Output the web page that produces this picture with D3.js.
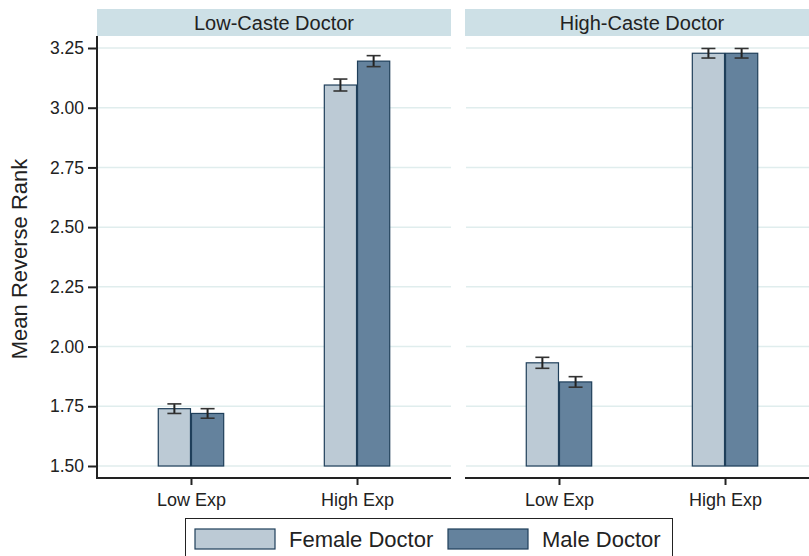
<!DOCTYPE html>
<html>
<head>
<meta charset="utf-8">
<script src="https://cdn.jsdelivr.net/npm/d3@7"></script>
<style>
  html, body { margin: 0; padding: 0; background: #fff; }
  svg { display: block; font-family: "Liberation Sans", Arial, sans-serif; }
</style>
</head>
<body>
<svg id="chart" width="809" height="556"></svg>
<script>
// Panels (doctor caste) and x categories (experience)
const panels = ["Low-Caste Doctor", "High-Caste Doctor"];
const experience = ["Low Exp", "High Exp"];
const seriesNames = ["Female Doctor", "Male Doctor"];

// Mean reverse rank per panel, indexed [experience]
const femaleMeans = [[1.74, 3.095], [1.932, 3.228]];
const maleMeans   = [[1.72, 3.195], [1.852, 3.228]];
// Half-widths of the confidence intervals
const femaleErr = [[0.02, 0.025], [0.023, 0.02]];
const maleErr   = [[0.02, 0.023], [0.022, 0.02]];

const yTicks = [1.50, 1.75, 2.00, 2.25, 2.50, 2.75, 3.00, 3.25];

const colors = { "Female Doctor": "#bccad5", "Male Doctor": "#64829d" };
const barStroke = "#1f3f5a";
const FONT = "Liberation Sans, Arial, sans-serif";

const svg = d3.select("#chart");
const W = 809, H = 556;

const plotTop = 36, plotBottom = 478;
const panelW = 354;
const panelX = [97, 465];

const y = d3.scaleLinear().domain([1.5, 3.25]).range([466, 48]);

// Clip to the drawing surface
svg.append("defs").append("clipPath").attr("id", "clip")
  .append("rect").attr("x", 0).attr("y", 0).attr("width", W).attr("height", H);
const root = svg.append("g").attr("clip-path", "url(#clip)");

panels.forEach((name, pi) => {
  const x0 = panelX[pi];
  const g = root.append("g");
  const x = d3.scalePoint().domain(experience).range([x0, x0 + panelW]).padding(0.566);
  const barW = x.step() * 0.2;

  // Strip header
  g.append("rect").attr("x", x0).attr("y", 9).attr("width", panelW).attr("height", 27)
    .attr("fill", "#cde0e6");
  g.append("text").attr("x", x0 + panelW / 2).attr("y", 29.5)
    .attr("text-anchor", "middle").attr("font-size", 20).attr("fill", "#222")
    .text(name);

  // Grid lines
  g.append("g").selectAll("line").data(yTicks).join("line")
    .attr("x1", x0 + 1).attr("x2", x0 + panelW)
    .attr("y1", d => y(d)).attr("y2", d => y(d))
    .attr("stroke", "#e0eded").attr("stroke-width", 1.5);

  // Bars
  const rows = [];
  experience.forEach((e, ei) => {
    rows.push({ s: "Female Doctor", e, v: femaleMeans[pi][ei], err: femaleErr[pi][ei], off: -1 });
    rows.push({ s: "Male Doctor", e, v: maleMeans[pi][ei], err: maleErr[pi][ei], off: 0 });
  });
  g.append("g").selectAll("rect").data(rows).join("rect")
    .attr("x", d => x(d.e) + d.off * barW + 0.5)
    .attr("y", d => y(d.v))
    .attr("width", barW - 1)
    .attr("height", d => y(1.5) - y(d.v))
    .attr("fill", d => colors[d.s])
    .attr("stroke", barStroke).attr("stroke-width", 1.2);

  // Error bars
  const eb = g.append("g").selectAll("g").data(rows).join("g")
    .attr("transform", d => `translate(${x(d.e) + d.off * barW + barW / 2},0)`);
  eb.append("line").attr("x1", 0).attr("x2", 0)
    .attr("y1", d => y(d.v + d.err)).attr("y2", d => y(d.v - d.err))
    .attr("stroke", "#222").attr("stroke-width", 2);
  eb.append("line").attr("x1", -7).attr("x2", 7)
    .attr("y1", d => y(d.v + d.err)).attr("y2", d => y(d.v + d.err))
    .attr("stroke", "#333").attr("stroke-width", 1.6);
  eb.append("line").attr("x1", -7).attr("x2", 7)
    .attr("y1", d => y(d.v - d.err)).attr("y2", d => y(d.v - d.err))
    .attr("stroke", "#333").attr("stroke-width", 1.6);

  // X axis
  const xAxis = g.append("g").attr("transform", `translate(0,${plotBottom})`)
    .call(d3.axisBottom(x).tickSizeOuter(0).tickSize(7).tickPadding(8));
  xAxis.select(".domain").attr("stroke", "#222").attr("stroke-width", 2)
    .attr("d", `M${x0},0H${x0 + panelW}`);
  xAxis.selectAll(".tick line").attr("stroke", "#222").attr("stroke-width", 2);
  xAxis.selectAll(".tick text").attr("font-size", 18).attr("fill", "#222")
    .attr("font-family", FONT);
});

// Y axis (left panel only)
const yAxis = root.append("g").attr("transform", `translate(${panelX[0]},0)`)
  .call(d3.axisLeft(y).tickValues(yTicks).tickFormat(d3.format(".2f")).tickSize(9).tickSizeOuter(0).tickPadding(4));
yAxis.select(".domain").attr("stroke", "#222").attr("stroke-width", 2)
  .attr("d", `M0,${plotTop}V${plotBottom + 1}`);
yAxis.selectAll(".tick line").attr("stroke", "#222").attr("stroke-width", 2);
yAxis.selectAll(".tick text").attr("font-size", 17.5).attr("fill", "#222")
  .attr("font-family", FONT);

svg.append("text")
  .attr("transform", "translate(27,259) rotate(-90)")
  .attr("text-anchor", "middle").attr("font-size", 22).attr("fill", "#222")
  .text("Mean Reverse Rank");

// Legend
const lg = svg.append("g");
lg.append("rect").attr("x", 185.5).attr("y", 518.5).attr("width", 487).attr("height", 50)
  .attr("fill", "#fff").attr("stroke", "#222").attr("stroke-width", 1);
const legendX = [195, 448];
seriesNames.forEach((s, i) => {
  lg.append("rect").attr("x", legendX[i]).attr("y", 529).attr("width", 80).attr("height", 20)
    .attr("fill", colors[s]).attr("stroke", barStroke).attr("stroke-width", 1.2);
  lg.append("text").attr("x", legendX[i] + 94).attr("y", 547)
    .attr("font-size", 22).attr("fill", "#222").text(s);
});
</script>
</body>
</html>
